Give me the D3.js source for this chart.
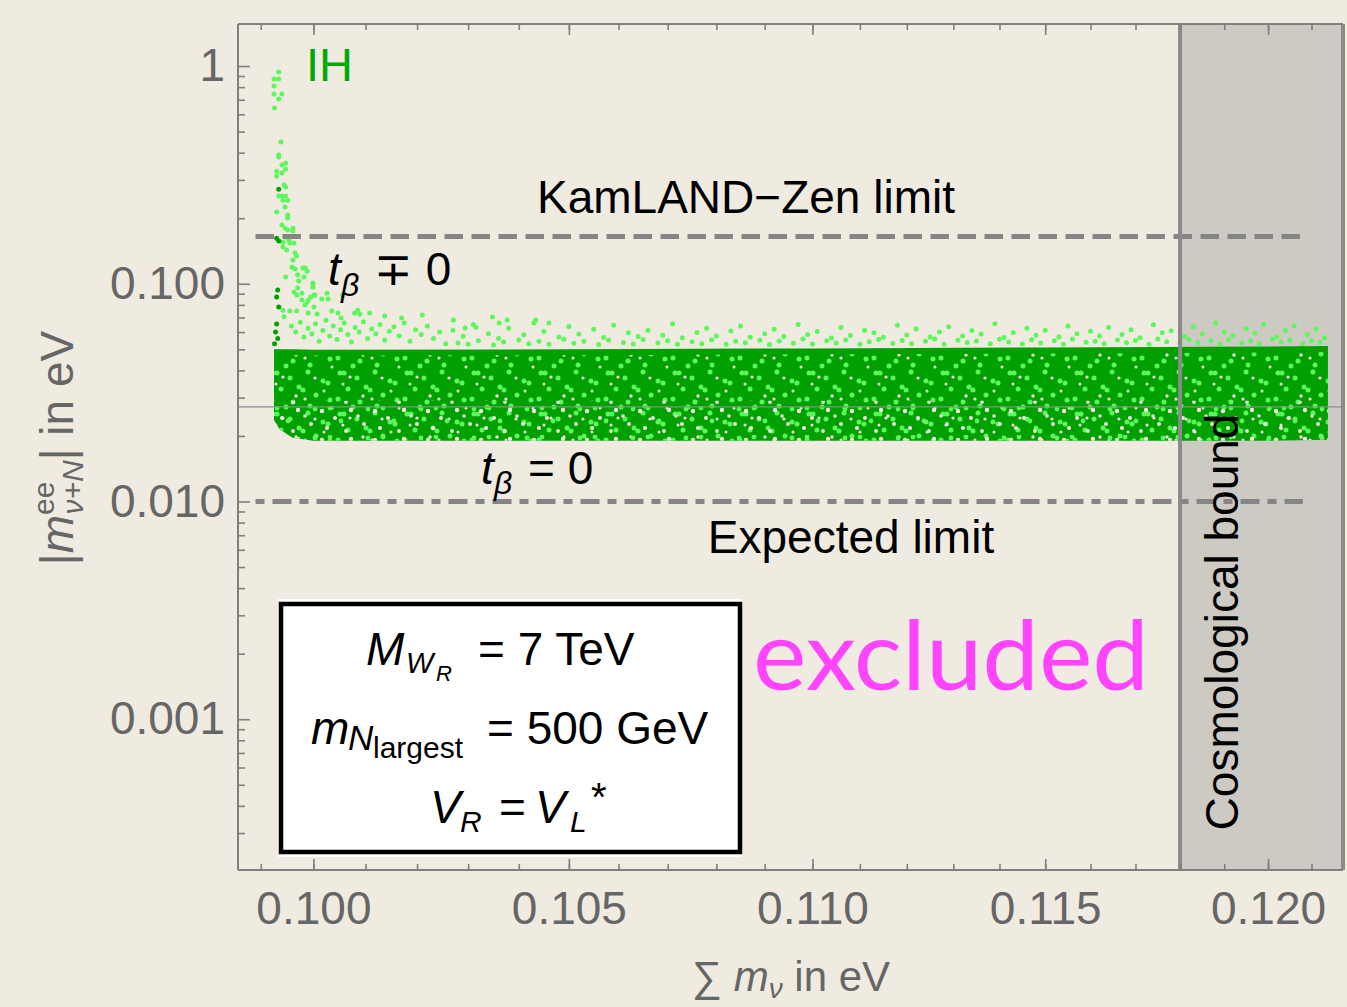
<!DOCTYPE html>
<html><head><meta charset="utf-8">
<script src="https://cdn.jsdelivr.net/npm/d3@7"></script>
<style>
body{margin:0;background:#efebe1;}
svg{display:block;}
text{font-family:"Liberation Sans",Arial,sans-serif;}
</style></head><body>
<svg id="c" width="1347" height="1007"></svg>
<script>
// ---------- data ----------
const xDomain = [0.09857, 0.12173];
const yDomain = [0.000203, 1.56];
const xTickMajor = [0.100, 0.105, 0.110, 0.115, 0.120];
const xTickLabels = ["0.100", "0.105", "0.110", "0.115", "0.120"];
const xTickMinor = [0.099,0.100,0.101,0.102,0.103,0.104,0.105,0.106,0.107,0.108,0.109,0.110,0.111,0.112,0.113,0.114,0.115,0.116,0.117,0.118,0.119,0.120,0.121];
const yTickMajor = [1, 0.1, 0.01, 0.001];
const yTickLabels = ["1", "0.100", "0.010", "0.001"];
const yTickMinor = [0.0003,0.0004,0.0005,0.0006,0.0007,0.0008,0.0009,
  0.002,0.003,0.004,0.005,0.006,0.007,0.008,0.009,
  0.02,0.03,0.04,0.05,0.06,0.07,0.08,0.09,
  0.2,0.3,0.4,0.5,0.6,0.7,0.8,0.9];

const kamlandLimit = 0.165;
const expectedLimit = 0.010;
const referenceLine = 0.0272;
const cosmoBound = 0.118;
const limitXRange = [0.0989, 0.1208];

// dense band of points (t_beta = 0 region)
const bandX      = [0.09925,0.09935,0.09960,0.1000,0.1050,0.1100,0.1150,0.1200,0.12138];
const bandTop    = [0.0500, 0.0500, 0.0500, 0.0498,0.0500,0.0505,0.0510,0.0515,0.0518];
const bandTexTop = [0.0470, 0.0470, 0.0470, 0.0468,0.0470,0.0474,0.0478,0.0483,0.0486];
const bandLowTop = [0.0290, 0.0290, 0.0290, 0.0290,0.0290,0.0290,0.0290,0.0290,0.0290];
const bandBottom = [0.0237, 0.0215, 0.0196, 0.0190,0.0190,0.0190,0.0190,0.0190,0.0192];

// light-green scattered points (t_beta != 0)
const spikeLight = [
[0.09934,0.938],[0.09925,0.872],[0.09934,0.872],[0.09925,0.809],[0.09925,0.744],[0.09940,0.744],[0.09934,0.705],[0.09926,0.641],
[0.09938,0.448],[0.09934,0.390],[0.09934,0.382],[0.09947,0.358],[0.09940,0.351],[0.09930,0.329],[0.09947,0.336],[0.09940,0.323],[0.09930,0.313],
[0.09944,0.284],[0.09947,0.278],[0.09934,0.253],[0.09940,0.253],[0.09947,0.253],[0.09942,0.242],[0.09951,0.242],[0.09946,0.225],[0.09930,0.2135],
[0.09951,0.2068],[0.09951,0.2003],[0.09940,0.186],[0.09946,0.180],[0.09951,0.1765],[0.09961,0.180],[0.09961,0.1746],
[0.09946,0.164],[0.09942,0.155],[0.09953,0.159],[0.09955,0.1538],[0.09963,0.1538],[0.09942,0.1475],[0.09949,0.1428],[0.09965,0.1384],[0.09968,0.134],
[0.09961,0.1285],[0.09959,0.1193],[0.09965,0.1168],[0.09984,0.118],[0.09988,0.1143],[0.09947,0.1073],[0.09970,0.110],[0.09972,0.1029],[0.09982,0.1073],
[0.09970,0.0956],[0.09963,0.0916],[0.09968,0.0887],[0.09999,0.0997],[0.10001,0.0887],[0.09995,0.0869],[0.09990,0.0842],[0.10026,0.0905],[0.10016,0.0851],[0.10028,0.0851],
[0.09978,0.0842],[0.09984,0.0798],[0.10001,0.0782],[0.10035,0.0749],[0.09942,0.0756],[0.09955,0.0749],[0.09968,0.0749],[0.09990,0.0735],[0.10007,0.0726],[0.10047,0.0735],
[0.09944,0.0705],[0.10053,0.0696],
[0.09980,0.1180],[0.09999,0.1007],[0.09999,0.0965],[0.09978,0.0905],[0.09988,0.0824],[0.10003,0.0887],[0.10056,0.0887],[0.10079,0.0735],[0.10085,0.0756],
[0.10089,0.0726],[0.10108,0.0735],[0.10137,0.0711],[0.10170,0.0696],[0.10210,0.0719],[0.10271,0.0681],[0.10294,0.0626],[0.10315,0.0632],[0.10348,0.0703],
[0.10361,0.0660],[0.10377,0.0681],[0.10434,0.0681],[0.10460,0.0660]
];
const spikeDark = [[0.09934,0.272],[0.09930,0.162],[0.09934,0.157],[0.09932,0.0936],[0.09930,0.0870],[0.09934,0.0782],[0.09930,0.0653],[0.09928,0.0600],[0.09932,0.0560],[0.09926,0.0530]];

const upperScatter = [
[0.09958,0.0640],[0.09966,0.0600],[0.09975,0.0665],[0.09982,0.0570],[0.09990,0.0625],[0.09997,0.0590],[0.10004,0.0655],[0.10011,0.0545],[0.10018,0.0610],[0.10024,0.0680],
[0.10031,0.0575],[0.10038,0.0640],[0.10045,0.0555],[0.10052,0.0615],[0.10059,0.0660],[0.10066,0.0585],[0.10073,0.0540],[0.10080,0.0630],[0.10088,0.0600],[0.10096,0.0670],
[0.10104,0.0560],[0.10112,0.0620],[0.10120,0.0590],[0.10128,0.0650],[0.10137,0.0550],[0.10146,0.0605],[0.10155,0.0635],[0.10165,0.0575],[0.10175,0.0660],[0.10186,0.0545],
[0.10197,0.0615],[0.10208,0.0585],[0.10220,0.0640],[0.10232,0.0560],[0.10244,0.0600],[0.10256,0.0530],
[0.1027,0.0612],[0.1028,0.0535],[0.1029,0.0574],[0.1030,0.0528],[0.1031,0.0650],[0.1032,0.0548],[0.1034,0.0590],[0.1035,0.0524],[0.1036,0.0561],[0.1037,0.0540],
[0.1038,0.0625],[0.1040,0.0552],[0.1041,0.0584],[0.1042,0.0530],[0.1043,0.0660],[0.1044,0.0545],[0.1045,0.0603],[0.1046,0.0527],[0.1048,0.0570],[0.1049,0.0556],
[0.1050,0.0636],[0.1051,0.0533],[0.1052,0.0588],[0.1053,0.0545],[0.1055,0.0618],[0.1056,0.0526],[0.1057,0.0566],[0.1058,0.0550],[0.1059,0.0645],[0.1061,0.0538],
[0.1062,0.0595],[0.1063,0.0529],[0.1064,0.0572],[0.1065,0.0555],[0.1066,0.0612],[0.1068,0.0534],[0.1069,0.0580],[0.1070,0.0547],[0.1071,0.0655],[0.1072,0.0527],
[0.1073,0.0565],[0.1075,0.0542],[0.1076,0.0598],[0.1077,0.0531],[0.1078,0.0625],[0.1079,0.0553],[0.1080,0.0576],[0.1082,0.0528],[0.1083,0.0607],[0.1084,0.0544],
[0.1085,0.0640],[0.1086,0.0536],[0.1087,0.0568],[0.1089,0.0550],[0.1090,0.0590],[0.1091,0.0526],[0.1092,0.0618],[0.1093,0.0546],[0.1094,0.0572],[0.1096,0.0533],
[0.1097,0.0650],[0.1098,0.0557],[0.1099,0.0585],[0.1100,0.0529],[0.1101,0.0603],[0.1103,0.0548],[0.1104,0.0563],[0.1105,0.0535],[0.1106,0.0630],[0.1107,0.0552],
[0.1108,0.0578],[0.1110,0.0527],[0.1111,0.0612],[0.1112,0.0541],[0.1113,0.0596],[0.1114,0.0555],[0.1115,0.0568],[0.1117,0.0532],[0.1118,0.0645],[0.1119,0.0549],
[0.1120,0.0582],[0.1121,0.0530],[0.1122,0.0620],[0.1124,0.0544],[0.1125,0.0570],[0.1126,0.0558],[0.1127,0.0600],[0.1128,0.0528],[0.1129,0.0635],[0.1131,0.0551],
[0.1132,0.0575],[0.1133,0.0537],[0.1134,0.0610],[0.1135,0.0546],[0.1136,0.0588],[0.1138,0.0531],[0.1139,0.0655],[0.1140,0.0556],[0.1141,0.0566],[0.1142,0.0540],
[0.1143,0.0598],[0.1145,0.0529],[0.1146,0.0625],[0.1147,0.0553],[0.1148,0.0580],[0.1149,0.0535],[0.1150,0.0612],[0.1152,0.0548],[0.1153,0.0570],[0.1154,0.0527],
[0.1155,0.0640],[0.1156,0.0558],[0.1157,0.0590],[0.1159,0.0539],[0.1160,0.0605],[0.1161,0.0545],[0.1162,0.0575],[0.1163,0.0530],[0.1164,0.0630],[0.1166,0.0552],
[0.1167,0.0585],[0.1168,0.0536],[0.1169,0.0615],[0.1170,0.0549],[0.1171,0.0565],[0.1173,0.0528],[0.1174,0.0648],[0.1175,0.0557],[0.1176,0.0595],[0.1177,0.0542],
[0.1178,0.0608],[0.1180,0.0533],[0.1181,0.0572],[0.1182,0.0555],[0.1183,0.0635],[0.1184,0.0538],[0.1185,0.0588],[0.1187,0.0547],[0.1188,0.0660],[0.1189,0.0529],
[0.1190,0.0600],[0.1191,0.0553],[0.1192,0.0578],[0.1194,0.0535],[0.1195,0.0622],[0.1196,0.0546],[0.1197,0.0592],[0.1198,0.0531],[0.1199,0.0650],[0.1201,0.0558],
[0.1202,0.0570],[0.1203,0.0540],[0.1204,0.0610],[0.1205,0.0550],[0.1206,0.0640],[0.1208,0.0532],[0.1209,0.0585],[0.1210,0.0548],[0.1211,0.0620],[0.1212,0.0538],[0.1213,0.0565]
];

// ---------- styles ----------
const BG = "#efebe1", SHADE = "#cdcac3", DARK = "#00a000", LIGHT = "#5cf75c", GRAY = "#858585", AXIS = "#7f7f7f", TXT = "#666666";

// ---------- drawing ----------
const svg = d3.select("#c");
const L = 238, R = 1343, T = 24, B = 870;
const x = d3.scaleLog().domain(xDomain).range([L, R]);
const y = d3.scaleLog().domain(yDomain).range([B, T]);

svg.append("rect").attr("width", 1347).attr("height", 1007).attr("fill", BG);

// irregular texture tiles for the dense band (style only)
const defs = svg.append("defs");
function makePattern(id, w, h, circles){
  const p = defs.append("pattern").attr("id", id).attr("patternUnits","userSpaceOnUse").attr("width", w).attr("height", h);
  circles.forEach(c => p.append("circle").attr("cx", c[0]).attr("cy", c[1]).attr("r", c[2]).attr("fill", c[3]));
}
makePattern("texA", 67, 41, [
  [5,4,2.5,LIGHT],[9,4,2.5,LIGHT],[22,9,2.5,LIGHT],[40,3,2.5,LIGHT],[55,12,2.5,LIGHT],[60,14,2.5,LIGHT],
  [13,20,2.5,LIGHT],[31,18,2.5,LIGHT],[35,21,2.5,LIGHT],[48,26,2.5,LIGHT],[3,30,2.5,LIGHT],[25,33,2.5,LIGHT],
  [62,31,2.5,LIGHT],[42,37,2.5,LIGHT],[18,38,2.5,LIGHT],
  [15,8,1.6,BG],[47,9,1.6,BG],[28,27,1.7,BG],[56,22,1.5,BG],[8,15,1.5,BG],[37,30,1.6,BG],[64,39,1.5,BG]]);
makePattern("texC", 53, 29, [
  [4,5,2.2,BG],[17,12,2.0,BG],[33,4,2.2,BG],[46,18,2.0,BG],[9,22,2.1,BG],[28,25,1.9,BG],[40,10,1.8,BG],
  [23,15,2.4,LIGHT],[50,3,2.4,LIGHT],[12,2,2.4,LIGHT]]);

// shaded excluded region
svg.append("rect").attr("x", x(cosmoBound)).attr("y", T).attr("width", R - x(cosmoBound)).attr("height", B - T).attr("fill", SHADE);

// band
const band = bandX.map((v,i)=>({x:v, t:bandTop[i], tt:bandTexTop[i], lt:bandLowTop[i], b:bandBottom[i]}));
const area = (topKey) => d3.area().x(d=>x(d.x)).y0(d=>y(d.b)).y1(d=>y(d[topKey]));
svg.append("path").attr("d", area("t")(band)).attr("fill", DARK);
svg.append("path").attr("d", area("tt")(band)).attr("fill", "url(#texA)");
svg.append("path").attr("d", area("lt")(band)).attr("fill", "url(#texC)");

// points
const pts = svg.append("g");
pts.selectAll(".u").data(upperScatter).join("circle").attr("cx", d=>x(d[0])).attr("cy", d=>y(d[1])).attr("r", 2.5).attr("fill", LIGHT);
pts.selectAll(".s").data(spikeLight).join("circle").attr("cx", d=>x(d[0])).attr("cy", d=>y(d[1])).attr("r", 2.5).attr("fill", LIGHT);
pts.selectAll(".d").data(spikeDark).join("circle").attr("cx", d=>x(d[0])).attr("cy", d=>y(d[1])).attr("r", 2.5).attr("fill", DARK);

// reference line
svg.append("line").attr("x1", L).attr("x2", R).attr("y1", y(referenceLine)).attr("y2", y(referenceLine)).attr("stroke", "#8c8c8c").attr("stroke-width", 1.3);

// limits
svg.append("line").attr("x1", x(limitXRange[0])).attr("x2", x(limitXRange[1])).attr("y1", y(kamlandLimit)).attr("y2", y(kamlandLimit))
  .attr("stroke", GRAY).attr("stroke-width", 5).attr("stroke-dasharray", "18.5,8.5");
svg.append("line").attr("x1", x(limitXRange[0])).attr("x2", x(limitXRange[1])).attr("y1", y(expectedLimit)).attr("y2", y(expectedLimit))
  .attr("stroke", GRAY).attr("stroke-width", 5).attr("stroke-dasharray", "9,8,19,8");

// cosmological boundary lines
svg.append("line").attr("x1", x(cosmoBound)).attr("x2", x(cosmoBound)).attr("y1", T).attr("y2", B).attr("stroke", "#8a8a8a").attr("stroke-width", 4);
svg.append("line").attr("x1", R).attr("x2", R).attr("y1", T).attr("y2", B).attr("stroke", "#8a8a8a").attr("stroke-width", 4);

// frame
svg.append("line").attr("x1", L).attr("x2", L).attr("y1", T).attr("y2", B).attr("stroke", AXIS).attr("stroke-width", 2);
svg.append("line").attr("x1", L).attr("x2", R).attr("y1", T).attr("y2", T).attr("stroke", AXIS).attr("stroke-width", 2);
svg.append("line").attr("x1", L).attr("x2", R).attr("y1", B).attr("y2", B).attr("stroke", AXIS).attr("stroke-width", 2);

// axes
function styleAxis(g){ g.select(".domain").remove(); g.selectAll(".tick line").attr("stroke", AXIS).attr("stroke-width", 1.6);
  g.selectAll("text").attr("fill", TXT).style("font-size","46px").style("font-family","'Liberation Sans', Arial, sans-serif"); }
const fmtX = v => xTickLabels[xTickMajor.indexOf(v)];
const fmtY = v => yTickLabels[yTickMajor.indexOf(v)];
svg.append("g").attr("transform",`translate(0,${B})`).call(d3.axisBottom(x).tickValues(xTickMinor).tickSize(-6).tickFormat("")).call(styleAxis);
svg.append("g").attr("transform",`translate(0,${B})`).call(d3.axisBottom(x).tickValues(xTickMajor).tickSize(-11).tickPadding(21).tickFormat(fmtX)).call(styleAxis);
svg.append("g").attr("transform",`translate(0,${T})`).call(d3.axisTop(x).tickValues(xTickMinor).tickSize(-6).tickFormat("")).call(styleAxis);
svg.append("g").attr("transform",`translate(0,${T})`).call(d3.axisTop(x).tickValues(xTickMajor).tickSize(-11).tickFormat("")).call(styleAxis);
svg.append("g").attr("transform",`translate(${L},0)`).call(d3.axisLeft(y).tickValues(yTickMinor).tickSize(-7).tickFormat("")).call(styleAxis);
svg.append("g").attr("transform",`translate(${L},0)`).call(d3.axisLeft(y).tickValues(yTickMajor).tickSize(-12).tickPadding(13).tickFormat(fmtY)).call(styleAxis);

// axis titles
const xt = svg.append("text").attr("x", 692).attr("y", 991).attr("fill", TXT).style("font-size","42px");
xt.append("tspan").text("∑ ");
xt.append("tspan").style("font-style","italic").text("m");
xt.append("tspan").style("font-style","italic").style("font-size","28px").attr("dy", 7).text("ν");
xt.append("tspan").attr("dy", -7).text(" in eV");

const yt = svg.append("text").attr("transform","translate(73,448) rotate(-90)").attr("text-anchor","middle").attr("fill", TXT).style("font-size","46px");
yt.append("tspan").text("|");
yt.append("tspan").style("font-style","italic").text("m");
yt.append("tspan").style("font-size","30px").attr("dy", -19).text("ee");
yt.append("tspan").style("font-size","30px").style("font-style","italic").attr("dx", -33).attr("dy", 29).text("ν+N");
yt.append("tspan").attr("dy", -10).text("| in eV");

// annotations
svg.append("text").attr("x", 306).attr("y", 81).attr("fill", "#00aa00").style("font-size","47px").text("IH");
svg.append("text").attr("x", 746).attr("y", 213).attr("text-anchor","middle").attr("fill","#000").style("font-size","46px").text("KamLAND−Zen limit");
svg.append("text").attr("x", 851).attr("y", 553).attr("text-anchor","middle").attr("fill","#000").style("font-size","46px").text("Expected limit");

const tb1 = svg.append("text").attr("fill","#000").style("font-size","46px");
tb1.append("tspan").attr("x",328).attr("y",285).style("font-style","italic").text("t");
tb1.append("tspan").attr("x",341).attr("y",296).style("font-style","italic").style("font-size","32px").text("β");
tb1.append("tspan").attr("x",374).attr("y",285).text("∓ 0");

const tb2 = svg.append("text").attr("fill","#000").style("font-size","46px");
tb2.append("tspan").attr("x",481).attr("y",484).style("font-style","italic").text("t");
tb2.append("tspan").attr("x",494).attr("y",494).style("font-style","italic").style("font-size","32px").text("β");
tb2.append("tspan").attr("x",528).attr("y",484).text("= 0");

svg.append("text").attr("x", 753).attr("y", 690).attr("fill", "#ff44ff").style("font-family","Lato, 'Noto Sans', sans-serif").style("font-size","96px")
  .attr("textLength", 396).attr("lengthAdjust","spacingAndGlyphs").text("excluded");

svg.append("text").attr("transform","translate(1238,622) rotate(-90)").attr("text-anchor","middle").attr("fill","#000").style("font-size","46px").text("Cosmological bound");

// legend box
svg.append("rect").attr("x",278).attr("y",599).attr("width",464).attr("height",258).attr("fill","#fff");
svg.append("rect").attr("x",281).attr("y",604).attr("width",459).attr("height",248).attr("fill","#fff").attr("stroke","#000").attr("stroke-width",4.5);
const lg1 = svg.append("text").attr("fill","#000").style("font-size","46px");
lg1.append("tspan").attr("x",366).attr("y",665).style("font-style","italic").text("M");
lg1.append("tspan").attr("x",406).attr("y",673).style("font-style","italic").style("font-size","29px").text("W");
lg1.append("tspan").attr("x",436).attr("y",681).style("font-style","italic").style("font-size","22px").text("R");
lg1.append("tspan").attr("x",478).attr("y",665).text("= 7 TeV");
const lg2 = svg.append("text").attr("fill","#000").style("font-size","46px");
lg2.append("tspan").attr("x",311).attr("y",744).style("font-style","italic").text("m");
lg2.append("tspan").attr("x",348).attr("y",750).style("font-style","italic").style("font-size","35px").text("N");
lg2.append("tspan").attr("x",373).attr("y",758).style("font-size","30px").text("largest");
lg2.append("tspan").attr("x",487).attr("y",744).text("= 500 GeV");
const lg3 = svg.append("text").attr("fill","#000").style("font-size","46px");
lg3.append("tspan").attr("x",430).attr("y",823).style("font-style","italic").text("V");
lg3.append("tspan").attr("x",460).attr("y",832).style("font-style","italic").style("font-size","30px").text("R");
lg3.append("tspan").attr("x",499).attr("y",823).text("=");
lg3.append("tspan").attr("x",535).attr("y",823).style("font-style","italic").text("V");
lg3.append("tspan").attr("x",570).attr("y",832).style("font-style","italic").style("font-size","30px").text("L");
lg3.append("tspan").attr("x",591).attr("y",811).style("font-size","40px").text("*");
</script>
</body></html>
